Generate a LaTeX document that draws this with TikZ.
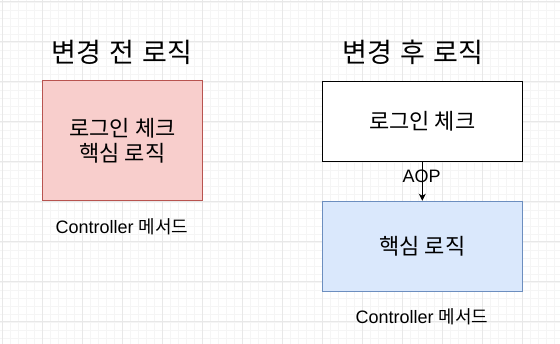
\documentclass[tikz,border=0pt]{standalone}
\usepackage{fontspec}
\setmainfont{Liberation Sans}
\newfontfamily\kr{Noto Sans CJK KR}
\usetikzlibrary{arrows.meta}
\definecolor{gridmin}{HTML}{F5F5F5}
\definecolor{gridmaj}{HTML}{E8E8E8}
\definecolor{redfill}{HTML}{F8CECC}
\definecolor{redline}{HTML}{B85450}
\definecolor{bluefill}{HTML}{DAE8FC}
\definecolor{blueline}{HTML}{6C8EBF}
\tikzset{
  box/.style={draw, line width=1pt, rectangle, inner sep=0pt, align=center},
  title/.style={font=\kr\fontsize{27}{30}\selectfont, inner sep=0pt},
  boxtext/.style={font=\kr\fontsize{22}{25}\selectfont},
  caption/.style={font=\fontsize{18}{20}\selectfont, inner sep=0pt},
  conn/.style={line width=1pt, -{Stealth[length=7pt,width=7pt,inset=2pt]}},
}
\begin{document}
\begin{tikzpicture}[x=1pt,y=-1pt]
\useasboundingbox (0,0) rectangle (560,344);
\fill[white] (0,0) rectangle (560,344);
\foreach \i in {0,...,70} {
  \draw[gridmin, line width=0.8pt] ({2+8*\i},0) -- ({2+8*\i},344);
}
\foreach \j in {0,...,43} {
  \draw[gridmin, line width=0.8pt] (0,{2+8*\j}) -- (560,{2+8*\j});
}
\foreach \i in {0,...,14} {
  \draw[gridmaj, line width=1pt] ({2.5+40*\i},0) -- ({2.5+40*\i},344);
}
\foreach \j in {0,...,8} {
  \draw[gridmaj, line width=1pt] (0,{1.7+40*\j}) -- (560,{1.7+40*\j});
}

\node[title] (t1) at (122,52) {변경\hspace{0.3em}전\hspace{0.3em}로직};
\node[title] (t2) at (413,52) {변경\hspace{0.3em}후\hspace{0.3em}로직};

\node[box, fill=redfill, draw=redline, minimum width=160pt, minimum height=120pt, boxtext] (old) at (122.5,141) {로그인 체크\\핵심 로직};
\node[caption] (c1) at (122,227) {Controller {\kr 메서드}};

\node[box, fill=white, minimum width=200pt, minimum height=80pt, boxtext] (check) at (422.3,121.3) {로그인 체크};
\node[box, fill=bluefill, draw=blueline, minimum width=200pt, minimum height=90pt, boxtext] (core) at (422.3,246.3) {핵심 로직};
\node[caption] (c2) at (422,317) {Controller {\kr 메서드}};

\draw[conn] (check) -- (core);
\node[caption] (aop) at (421.7,176.5) {AOP};
\end{tikzpicture}
\end{document}
